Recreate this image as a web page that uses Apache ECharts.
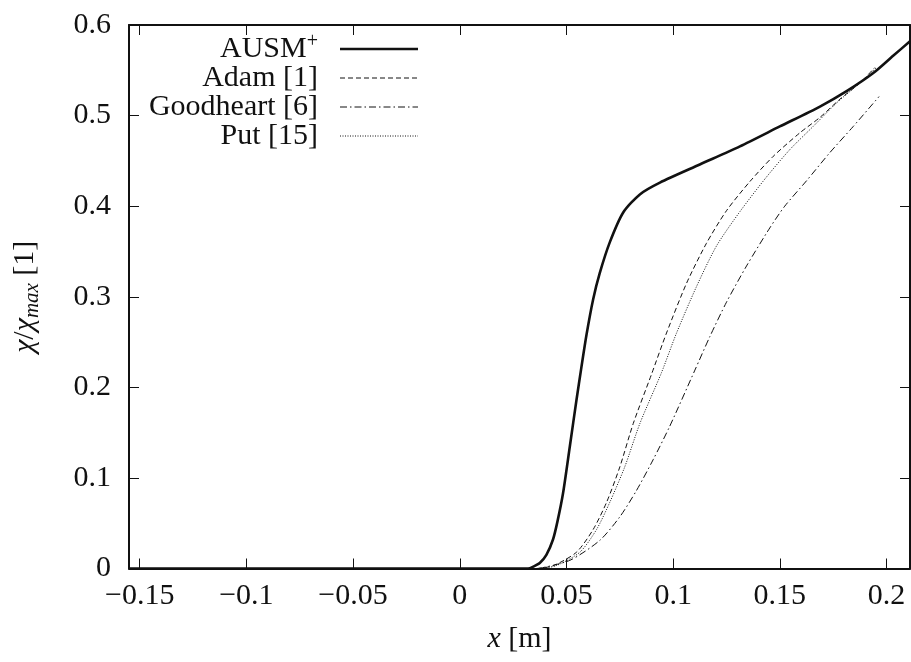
<!DOCTYPE html>
<html><head><meta charset="utf-8">
<script src="https://cdn.jsdelivr.net/npm/echarts@6/dist/echarts.min.js"></script>
<style>html,body{margin:0;padding:0;background:#fff}#c{width:911px;height:662px}</style>
</head><body><div id="c"></div>
<script>
const xTickValues = [-0.15, -0.1, -0.05, 0, 0.05, 0.1, 0.15, 0.2];
const xTickLabels = ['−0.15', '−0.1', '−0.05', '0', '0.05', '0.1', '0.15', '0.2'];
const yTickValues = [0, 0.1, 0.2, 0.3, 0.4, 0.5, 0.6];
const yTickLabels = ['0', '0.1', '0.2', '0.3', '0.4', '0.5', '0.6'];
const seriesNames = ['AUSM+', 'Adam [1]', 'Goodheart [6]', 'Put [15]'];
const legendLabels = ['AUSM{sup|+}', 'Adam [1]', 'Goodheart [6]', 'Put [15]'];

const ausmX = [-0.155, 0.032, 0.0344, 0.0375, 0.0406, 0.0437, 0.0458, 0.0484, 0.0516, 0.0547, 0.057, 0.0594, 0.0625, 0.0656, 0.0703, 0.0766, 0.0844, 0.0938, 0.1125, 0.1313, 0.15, 0.1688, 0.1813, 0.1938, 0.2031, 0.211];
const ausmY = [0, 0, 0.002, 0.006, 0.015, 0.032, 0.052, 0.083, 0.135, 0.186, 0.222, 0.258, 0.297, 0.326, 0.360, 0.393, 0.413, 0.426, 0.446, 0.466, 0.488, 0.510, 0.527, 0.547, 0.566, 0.582];

const adamX = [0.036, 0.0437, 0.0547, 0.0625, 0.0688, 0.075, 0.0813, 0.0898, 0.0969, 0.1063, 0.1156, 0.125, 0.1359, 0.1469, 0.1594, 0.1688, 0.1781, 0.1875, 0.1945];
const adamY = [0, 0.003, 0.018, 0.043, 0.073, 0.112, 0.160, 0.214, 0.260, 0.315, 0.359, 0.395, 0.427, 0.455, 0.481, 0.498, 0.518, 0.536, 0.553];

const goodX = [0.037, 0.0516, 0.0656, 0.075, 0.0828, 0.0906, 0.0984, 0.1102, 0.1172, 0.125, 0.1344, 0.1453, 0.1523, 0.1625, 0.1734, 0.1844, 0.1965];
const goodY = [0, 0.009, 0.031, 0.057, 0.086, 0.120, 0.157, 0.219, 0.256, 0.294, 0.334, 0.376, 0.400, 0.428, 0.459, 0.488, 0.521];

const putX = [0.037, 0.045, 0.0563, 0.0641, 0.0703, 0.0773, 0.0844, 0.0945, 0.1016, 0.1109, 0.1203, 0.1313, 0.1430, 0.1547, 0.1656, 0.1766, 0.1875, 0.1953];
const putY = [0, 0.003, 0.018, 0.043, 0.073, 0.112, 0.160, 0.216, 0.260, 0.311, 0.356, 0.394, 0.430, 0.4625, 0.488, 0.514, 0.536, 0.553];

const FONT = 'Liberation Serif';
const zip = (xs, ys) => xs.map((x, i) => [x, ys[i]]);
const lookup = (vals, labels) => v => {
  let best = 0;
  vals.forEach((t, i) => { if (Math.abs(t - v) < Math.abs(vals[best] - v)) best = i; });
  return labels[best];
};

const styles = [
  { width: 2.6, type: 'solid' },
  { width: 1, type: [5, 3] },
  { width: 1, type: [7, 3, 1.5, 3] },
  { width: 1, type: [1, 1.5] }
];
const dataSets = [zip(ausmX, ausmY), zip(adamX, adamY), zip(goodX, goodY), zip(putX, putY)];

const axisLine = { show: true, onZero: false, lineStyle: { color: '#111', width: 2 } };
const tickStyle = { show: true, inside: true, length: 10, lineStyle: { color: '#111', width: 1 } };

const chart = echarts.init(document.getElementById('c'), null, { renderer: 'canvas' });

const graphics = [];
legendLabels.forEach((lab, i) => {
  const y = 49 + 29 * i;
  graphics.push({
    type: 'text', x: 318, y: y, z: 100,
    style: {
      text: lab, x: 0, y: 0, align: 'right', verticalAlign: 'middle',
      font: '30px "' + FONT + '"', fill: '#111',
      rich: { sup: { fontSize: 20, fontFamily: FONT, verticalAlign: 'top', padding: [0, 0, 14, 0], fill: '#111' } }
    }
  });
  graphics.push({
    type: 'line', z: 100,
    shape: { x1: 340, y1: y, x2: 418, y2: y },
    style: { stroke: '#111', lineWidth: styles[i].width, lineDash: styles[i].type === 'solid' ? null : styles[i].type }
  });
});

chart.setOption({
  animation: false,
  backgroundColor: '#fff',
  grid: { left: 129, right: 1, top: 25, bottom: 93.5, containLabel: false },
  xAxis: [{
    type: 'value', min: -0.155, max: 0.211, position: 'bottom',
    axisLine: axisLine, splitLine: { show: false },
    axisTick: Object.assign({ customValues: xTickValues }, tickStyle),
    axisLabel: { customValues: xTickValues, formatter: lookup(xTickValues, xTickLabels), fontFamily: FONT, fontSize: 30, color: '#111', margin: 13 },
    name: '{i|x} [m]', nameLocation: 'middle', nameGap: 56,
    nameTextStyle: { fontFamily: FONT, fontSize: 30, color: '#111', rich: { i: { fontStyle: 'italic', fontFamily: FONT, fontSize: 30 } } }
  }, {
    type: 'value', min: -0.155, max: 0.211, position: 'top',
    axisLine: axisLine, splitLine: { show: false },
    axisTick: Object.assign({ customValues: xTickValues }, tickStyle),
    axisLabel: { show: false }
  }],
  yAxis: [{
    type: 'value', min: 0, max: 0.6, position: 'left',
    axisLine: axisLine, splitLine: { show: false },
    axisTick: Object.assign({ customValues: yTickValues }, tickStyle),
    axisLabel: { customValues: yTickValues, formatter: lookup(yTickValues, yTickLabels), fontFamily: FONT, fontSize: 30, color: '#111', margin: 18 },
    name: '{i|χ}/{i|χ}{s|max} [1]', nameLocation: 'middle', nameGap: 86, nameRotate: 90,
    nameTextStyle: {
      fontFamily: FONT, fontSize: 30, color: '#111',
      rich: {
        i: { fontStyle: 'italic', fontFamily: FONT, fontSize: 30 },
        s: { fontStyle: 'italic', fontFamily: FONT, fontSize: 21, verticalAlign: 'bottom', padding: [14, 0, 0, 0] }
      }
    }
  }, {
    type: 'value', min: 0, max: 0.6, position: 'right',
    axisLine: axisLine, splitLine: { show: false },
    axisTick: Object.assign({ customValues: yTickValues }, tickStyle),
    axisLabel: { show: false }
  }],
  series: seriesNames.map((n, i) => ({
    name: n, type: 'line', xAxisIndex: 0, yAxisIndex: 0,
    data: dataSets[i], showSymbol: false, smooth: 0.25,
    lineStyle: { color: '#111', width: styles[i].width, type: styles[i].type },
    clip: true, z: i === 0 ? 5 : 4
  })),
  graphic: graphics
});
</script></body></html>
